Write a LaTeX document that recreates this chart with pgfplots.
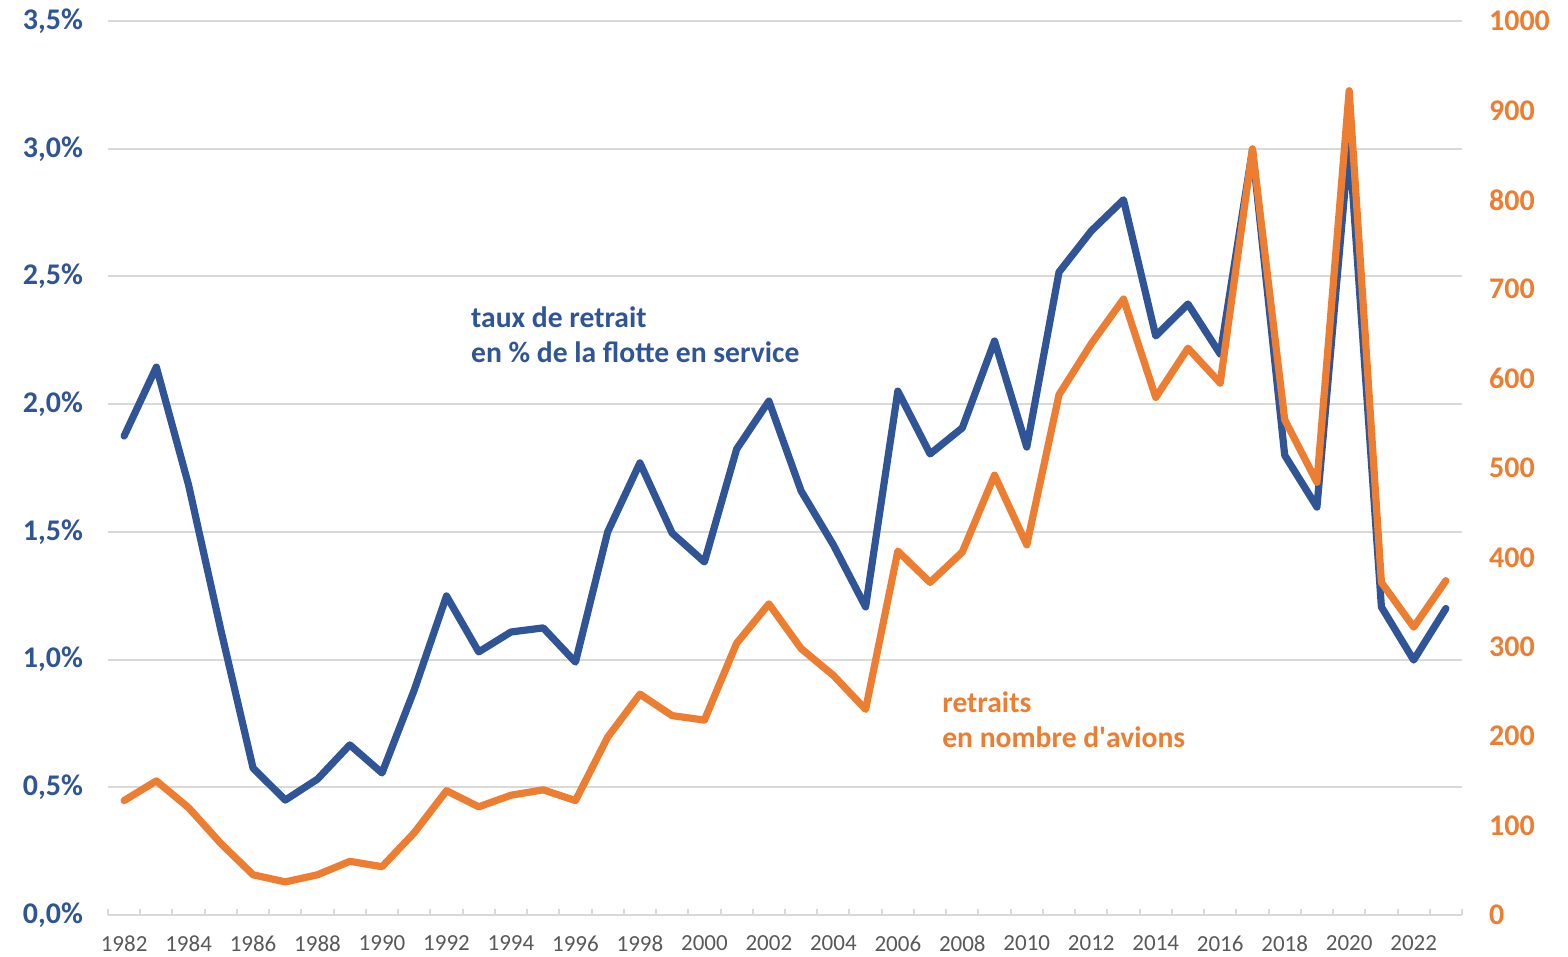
\documentclass[border=0pt]{standalone}
\usepackage{fontspec}
\setmainfont{Carlito}
\usepackage{pgfplots}
\pgfplotsset{compat=1.18}

\definecolor{tauxblue}{RGB}{47,85,151}
\definecolor{retorange}{RGB}{237,125,49}
\definecolor{gridgray}{RGB}{217,217,217}
\definecolor{yeargray}{RGB}{89,89,89}

\pgfplotstableread{
year taux retraits
1982 1.875 128
1983 2.145 150
1984 1.683 120
1985 1.116 80
1986 0.575 45
1987 0.450 37
1988 0.532 45
1989 0.666 60
1990 0.556 54
1991 0.881 92
1992 1.249 139
1993 1.030 121
1994 1.108 134
1995 1.124 140
1996 0.990 128
1997 1.500 199
1998 1.770 247
1999 1.495 223
2000 1.382 218
2001 1.824 304
2002 2.012 348
2003 1.660 298
2004 1.449 268
2005 1.206 230
2006 2.051 407
2007 1.805 372
2008 1.907 406
2009 2.247 492
2010 1.832 414
2011 2.517 582
2012 2.678 639
2013 2.800 689
2014 2.267 579
2015 2.392 634
2016 2.196 595
2017 2.995 857
2018 1.800 554
2019 1.597 484
2020 3.030 922
2021 1.206 372
2022 0.998 322
2023 1.200 374
}\datatable

\begin{document}
\begin{tikzpicture}
\useasboundingbox (-54pt,-21pt) rectangle (730pt,457.5pt);
\pgfplotsset{
  common/.style={
    scale only axis,
    width=677pt, height=447pt,
    xmin=1981.5, xmax=2023.5,
    /pgf/number format/assume math mode=true,
  }
}
% left axis: taux de retrait
\begin{axis}[
  common,
  ymin=0, ymax=3.5,
  axis x line*=bottom,
  axis y line*=left,
  y axis line style={draw=none},
  x axis line style={draw=gridgray, line width=1pt},
  xtick={1982,1984,...,2022},
  xticklabel style={font=\fontsize{11.5}{12}\selectfont, text=yeargray, yshift=-7pt},
  /pgf/number format/1000 sep={},
  major x tick style={draw=none},
  minor xtick={1981.5,1982.5,...,2023.5},
  minor x tick style={draw=gridgray, line width=1pt},
  minor tick length=3.2pt,
  xtick align=inside,
  ytick={0,0.5,...,3.5},
  yticklabels={{0,0\%},{0,5\%},{1,0\%},{1,5\%},{2,0\%},{2,5\%},{3,0\%},{3,5\%}},
  yticklabel style={font=\fontsize{15}{16}\selectfont\bfseries, text=tauxblue, xshift=-9pt},
  major y tick style={draw=none},
  ymajorgrids,
  grid style={gridgray, line width=1pt},
  clip=false,
]
\addplot[tauxblue, line width=3.6pt, line join=round, line cap=round] table[x=year, y=taux] {\datatable};
\node[anchor=west, align=left, text=tauxblue, font=\fontsize{14.8}{17.5}\selectfont\bfseries]
  at (axis description cs:0.263,0.649) {taux de retrait\\en \% de la flotte en service};
\node[anchor=west, align=left, text=retorange, font=\fontsize{14.8}{17.5}\selectfont\bfseries]
  at (axis description cs:0.611,0.218) {retraits\\en nombre d\textquotesingle avions};
\end{axis}
% right axis: retraits
\begin{axis}[
  common,
  ymin=0, ymax=1000,
  axis y line*=right,
  axis x line=none,
  y axis line style={draw=none},
  ytick={0,100,...,1000},
  /pgf/number format/1000 sep={},
  yticklabel style={font=\fontsize{15}{16}\selectfont\bfseries, text=retorange, anchor=west, xshift=10pt},
  major y tick style={draw=none},
  clip=false,
]
\addplot[retorange, line width=3.6pt, line join=round, line cap=round] table[x=year, y=retraits] {\datatable};
\end{axis}
\end{tikzpicture}
\end{document}
